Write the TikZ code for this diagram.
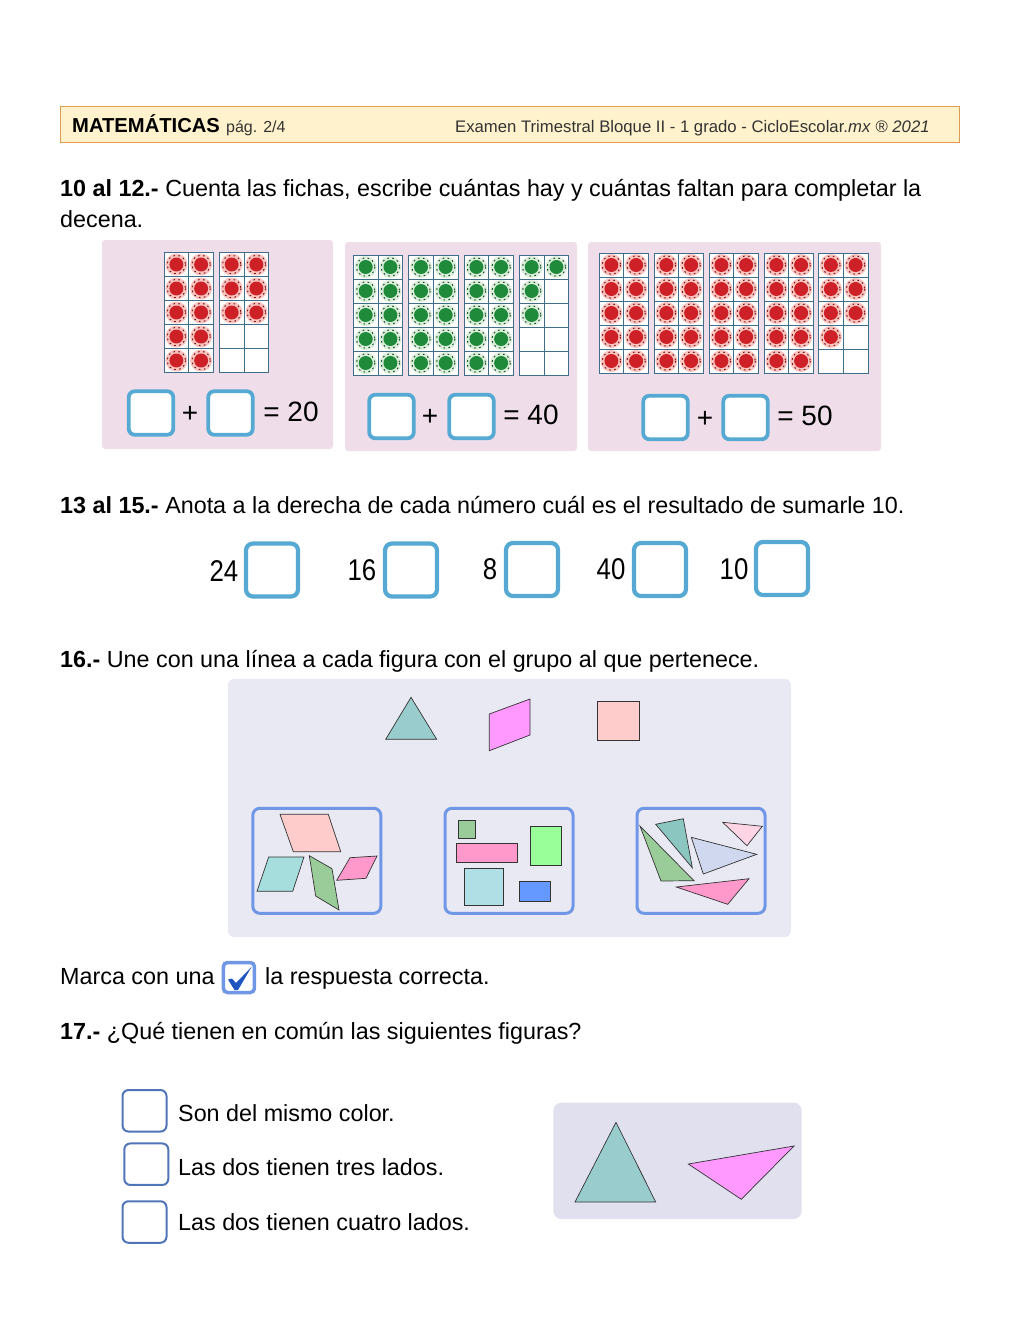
\documentclass[tikz,border=0pt]{standalone}
\usepackage{fontspec}
\setmainfont{Liberation Sans}
\newfontfamily\slimfont[FakeStretch=0.86]{Liberation Sans}
\definecolor{sheetpink}{HTML}{EFDEEA}
\definecolor{sheetblue}{HTML}{E9E9F4}
\definecolor{sheetgrey}{HTML}{E1E0EE}
\definecolor{headfill}{HTML}{FFF2CC}
\definecolor{headline}{HTML}{E39B4F}
\definecolor{gridblue}{HTML}{3F6E8C}
\definecolor{boxcyan}{HTML}{55A9D2}
\definecolor{boxblue}{HTML}{6F97E6}
\definecolor{boxdark}{HTML}{4F74B8}
\definecolor{tickblue}{HTML}{1F55C0}
\definecolor{fillteal}{HTML}{99CCCC}
\definecolor{fillaqua}{HTML}{A6DEDE}
\definecolor{fillpale}{HTML}{B0E0E6}
\definecolor{fillsea}{HTML}{8CC6C0}
\definecolor{filllav}{HTML}{D0D8F0}
\definecolor{fillblush}{HTML}{FFD5E5}
\definecolor{filllime}{HTML}{99FF99}
\definecolor{fillsky}{HTML}{6699FF}
\definecolor{fillrose}{HTML}{FFCCCC}
\definecolor{fillmag}{HTML}{FF99FF}
\definecolor{fillpink}{HTML}{FF99CC}
\definecolor{fillgreen}{HTML}{99CC99}
\definecolor{redcore}{HTML}{CE2027}
\definecolor{redhalo}{HTML}{FBC4BE}
\definecolor{greencore}{HTML}{1F8A3A}
\definecolor{greenhalo}{HTML}{DDEEDD}
\tikzset{
  textline/.style={anchor=base west,inner sep=0pt,font=\fontsize{23.33}{28}\selectfont},
  numtext/.style={anchor=center,inner sep=0pt,font=\fontsize{28}{32}\selectfont},
  slimnum/.style={anchor=center,inner sep=0pt,font=\fontsize{30}{34}\slimfont},
  answerbox/.style={draw=boxcyan,fill=white,line width=3.8pt,rounded corners=6pt,inner sep=0pt,minimum width=44.5pt,minimum height=43.5pt},
  bigbox/.style={draw=boxcyan,fill=white,line width=4.2pt,rounded corners=7pt,inner sep=0pt,minimum width=52pt,minimum height=53pt},
  groupbox/.style={draw=boxblue,line width=3pt,rounded corners=7pt,inner sep=0pt,minimum width=128pt,minimum height=105pt},
  choicebox/.style={draw=boxdark,line width=2pt,rounded corners=6pt,inner sep=0pt,minimum width=44pt,minimum height=41.5pt},
  figline/.style={draw=black!80,line width=0.7pt},
}
% one counter
\newcommand{\createchip}[4]{\fill[#4] (#1,#2) circle (11);
  \draw[#3!60!black,line width=1pt,dash pattern=on 1.6pt off 3.4pt] (#1,#2) circle (9.2);
  \fill[#3] (#1,#2) circle (7);}
% ten frame: left, top, chips in left column, chips in right column, colours
\newcommand{\createframe}[6]{
  \fill[white] (#1,#2) rectangle ++(49.5,120);
  \foreach \row in {1,...,5} {
    \ifnum\row>#3\else \createchip{#1+12.4}{#2+24*\row-12}{#5}{#6} \fi
    \ifnum\row>#4\else \createchip{#1+37.1}{#2+24*\row-12}{#5}{#6} \fi}
  \draw[gridblue,line width=0.9pt] (#1,#2) rectangle ++(49.5,120);
  \draw[gridblue,line width=0.9pt] (#1+24.75,#2) -- ++(0,120);
  \foreach \row in {1,...,4} {\draw[gridblue,line width=0.9pt] (#1,#2+24*\row) -- ++(49.5,0);}
}
\begin{document}
\begin{tikzpicture}[x=1pt,y=-1pt]
  \useasboundingbox (0,0) rectangle (1020,1342);
  %header
  \draw[draw=headline,fill=headfill,line width=1pt] (60,106.5) rectangle (959.5,142.5);
  \node[textline,font=\fontsize{20.2}{24}\selectfont\bfseries] (head) at (72,132) {MATEMÁTICAS};
  \node[textline,font=\fontsize{16}{20}\selectfont,text=black!80] (page) at (226,132) {pág. 2/4};
  \node[textline,font=\fontsize{16.7}{20}\selectfont,text=black!80] (exam) at (455,132) {Examen Trimestral Bloque II - 1 grado - CicloEscolar.\textit{mx} ® \textit{2021}};
  %questions 10 to 12
  \node[textline] (qa) at (60,196) {\textbf{10 al 12.-} Cuenta las fichas, escribe cuántas hay y cuántas faltan para completar la};
  \node[textline] (qb) at (60,227) {decena.};
  \fill[sheetpink,rounded corners=3pt] (102,240) rectangle (333,449);
  \fill[sheetpink,rounded corners=3pt] (345,242) rectangle (577,451);
  \fill[sheetpink,rounded corners=3pt] (588,242) rectangle (881,451);
  \createframe{164}{252.5}{5}{5}{redcore}{redhalo}
  \createframe{219.3}{252.5}{3}{3}{redcore}{redhalo}
  \foreach \xpos in {353.3,408.6,464,519.3} {
    \ifdim\xpos pt<500pt \createframe{\xpos}{255}{5}{5}{greencore}{greenhalo} \else \createframe{\xpos}{255}{3}{1}{greencore}{greenhalo} \fi}
  \foreach \xpos in {599,654,709,764} {\createframe{\xpos}{253}{5}{5}{redcore}{redhalo}}
  \createframe{818.5}{253}{4}{3}{redcore}{redhalo}
  \node[answerbox] (boxa) at (151,413) {};
  \node[answerbox] (boxb) at (230.5,413) {};
  \node[answerbox] (boxc) at (391.5,416.5) {};
  \node[answerbox] (boxd) at (471.5,416.5) {};
  \node[answerbox] (boxe) at (665.5,417.5) {};
  \node[answerbox] (boxf) at (745.5,417.5) {};
  \node[numtext] (plusa) at (190,414) {+};
  \node[numtext] (plusb) at (430,417) {+};
  \node[numtext] (plusc) at (705,419) {+};
  \node[numtext] (suma) at (291,412) {= 20};
  \node[numtext] (sumb) at (531,415) {= 40};
  \node[numtext] (sumc) at (805,416) {= 50};
  %questions 13 to 15
  \node[textline] (qc) at (60,513) {\textbf{13 al 15.-} Anota a la derecha de cada número cuál es el resultado de sumarle 10.};
  \node[bigbox] (numa) at (272,570) {};
  \node[bigbox] (numb) at (411,570) {};
  \node[bigbox] (numc) at (532,569.5) {};
  \node[bigbox] (numd) at (660,569.5) {};
  \node[bigbox] (nume) at (782,568.5) {};
  \node[slimnum] at (224,571) (vala) {24};
  \node[slimnum] at (362,570) (valb) {16};
  \node[slimnum] at (490,569) (valc) {8};
  \node[slimnum] at (611,569) (vald) {40};
  \node[slimnum] at (734,569) (vale) {10};
  %question 16
  \node[textline] (qd) at (60,667) {\textbf{16.-} Une con una línea a cada figura con el grupo al que pertenece.};
  \fill[sheetblue,rounded corners=6pt] (228,679) rectangle (791,937);
  \filldraw[figline,fill=fillteal] (385.7,739.3) -- (436.7,739.3) -- (411,697.3) -- cycle;
  \filldraw[figline,fill=fillmag] (489.3,714) -- (530,699) -- (530,735) -- (489.3,750.7) -- cycle;
  \filldraw[figline,fill=fillrose] (597.7,701) rectangle (639.3,740);
  \node[groupbox] (groupa) at (316.8,860.8) {};
  \node[groupbox] (groupb) at (509,860.8) {};
  \node[groupbox] (groupc) at (701,860.8) {};
  %four sides
  \filldraw[figline,fill=fillrose] (280,814.3) -- (328.3,814.3) -- (340.7,851.7) -- (293.3,851.7) -- cycle;
  \filldraw[figline,fill=fillaqua] (268.7,857) -- (304,857) -- (292.7,891.3) -- (257,891.3) -- cycle;
  \filldraw[figline,fill=fillgreen] (309.3,855.7) -- (332,868.7) -- (339,910) -- (315.7,896) -- cycle;
  \filldraw[figline,fill=fillpink] (350,857.7) -- (377,856) -- (366,878.3) -- (336.7,880.3) -- cycle;
  %rectangles
  \filldraw[figline,fill=fillgreen] (458.3,820.3) rectangle (475.3,838);
  \filldraw[figline,fill=fillpink] (456.3,843.3) rectangle (517.7,862.7);
  \filldraw[figline,fill=fillpale] (464.3,868.3) rectangle (503.3,905.7);
  \filldraw[figline,fill=filllime] (530,826) rectangle (561.7,865.7);
  \filldraw[figline,fill=fillsky] (519.3,881.7) rectangle (550.3,901.3);
  %triangles
  \filldraw[figline,fill=fillgreen] (640,826) -- (694,880.7) -- (661,881) -- cycle;
  \filldraw[figline,fill=fillsea] (655.7,824.3) -- (683.3,818.7) -- (692.3,867.7) -- cycle;
  \filldraw[figline,fill=filllav] (691.3,837.3) -- (756.7,854.3) -- (703.3,874) -- cycle;
  \filldraw[figline,fill=fillblush] (722.7,822.3) -- (762.3,826.3) -- (747,845.7) -- cycle;
  \filldraw[figline,fill=fillpink] (676.3,887) -- (749,878.7) -- (727.7,904.3) -- cycle;
  %mark
  \node[textline] (mark) at (60,984) {Marca con una};
  \node[draw=boxblue,fill=white,line width=3.5pt,rounded corners=4pt,inner sep=0pt,minimum width=31pt,minimum height=30pt] (tick) at (238.9,977.5) {};
  \fill[tickblue] (228,979.5) -- (232,978.5) -- (236,983) -- (251.7,966.7) -- (238,990) -- (234.5,990) -- cycle;
  \node[textline] (marb) at (265,984) {la respuesta correcta.};
  %question 17
  \node[textline] (qe) at (60,1039) {\textbf{17.-} ¿Qué tienen en común las siguientes figuras?};
  \node[choicebox] (cha) at (144.5,1110.8) {};
  \node[choicebox] (chb) at (146.3,1164.2) {};
  \node[choicebox] (chc) at (144.5,1222) {};
  \node[textline] (opta) at (178,1121) {Son del mismo color.};
  \node[textline] (optb) at (178,1175) {Las dos tienen tres lados.};
  \node[textline] (optc) at (178,1230) {Las dos tienen cuatro lados.};
  \fill[sheetgrey,rounded corners=8pt] (553.3,1102.7) rectangle (801.7,1219);
  \filldraw[figline,fill=fillteal] (575,1202) -- (655.7,1202) -- (616,1122.3) -- cycle;
  \filldraw[figline,fill=fillmag] (688.3,1164) -- (794,1146) -- (741.3,1199.3) -- cycle;
\end{tikzpicture}
\end{document}
